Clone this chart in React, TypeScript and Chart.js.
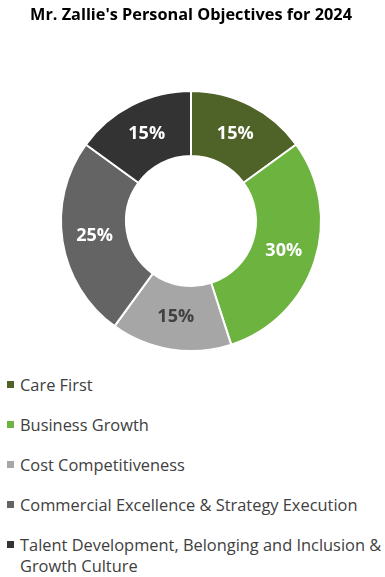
import React, { useEffect, useRef } from "react";
import { Chart, registerables } from "chart.js";

Chart.register(...registerables);

const TITLE = "Mr. Zallie's Personal Objectives for 2024";
const CATEGORIES = [
  "Care First",
  "Business Growth",
  "Cost Competitiveness",
  "Commercial Excellence & Strategy Execution",
  "Talent Development, Belonging and Inclusion & Growth Culture",
];
const VALUES = [15, 30, 15, 25, 15];
const COLORS = ["#4F6228", "#6DB33F", "#A6A6A6", "#646464", "#333333"];
const LABEL_COLORS = ["#FFFFFF", "#FFFFFF", "#404040", "#FFFFFF", "#FFFFFF"];

const FONT = "'Open Sans', sans-serif";

const labelPlugin = {
  id: "sliceLabels",
  afterDatasetsDraw(chart: any) {
    const ctx = chart.ctx;
    const meta = chart.getDatasetMeta(0);
    const total = VALUES.reduce((a, b) => a + b, 0);
    ctx.save();
    ctx.font = `bold 18px ${FONT}`;
    ctx.textAlign = "center";
    ctx.textBaseline = "middle";
    meta.data.forEach((arc: any, i: number) => {
      const p = arc.tooltipPosition();
      ctx.fillStyle = LABEL_COLORS[i];
      ctx.fillText(Math.round((VALUES[i] / total) * 100) + "%", p.x, p.y);
    });
    ctx.restore();
  },
};

export default function App() {
  const ref = useRef<HTMLCanvasElement | null>(null);
  useEffect(() => {
    if (!ref.current) return;
    const chart = new Chart(ref.current, {
      type: "doughnut",
      data: {
        labels: CATEGORIES,
        datasets: [
          {
            data: VALUES,
            backgroundColor: COLORS,
            borderColor: "#FFFFFF",
            borderWidth: 2,
          },
        ],
      },
      options: {
        animation: false,
        responsive: false,
        cutout: "50%",
        layout: { padding: { left: 0, right: 3, bottom: 8, top: 0 } },
        plugins: {
          legend: { display: false },
          tooltip: { enabled: false },
          title: {
            display: true,
            text: TITLE,
            color: "#000000",
            font: { family: FONT, size: 16.3, weight: "bold" },
            padding: { top: 5.2, bottom: 65.2 },
          },
        },
      },
      plugins: [labelPlugin],
    });
    return () => chart.destroy();
  }, []);

  return (
    <div
      style={{
        position: "fixed",
        left: 0,
        top: 0,
        width: 385,
        height: 577,
        background: "#FFFFFF",
        overflow: "hidden",
        fontFamily: FONT,
      }}
    >
      <canvas ref={ref} width={385} height={360} style={{ display: "block" }} />
      <div style={{ position: "absolute", left: 0, top: 374, width: 385 }}>
        {CATEGORIES.map((c, i) => (
          <div
            key={c}
            style={{
              position: "relative",
              paddingLeft: 20,
              marginBottom: 19,
              fontSize: 16.4,
              lineHeight: "21px",
              color: "#404040",
              width: 364,
            }}
          >
            <span
              style={{
                position: "absolute",
                left: 7,
                top: 7,
                width: 7,
                height: 7,
                background: COLORS[i],
              }}
            />
            {c}
          </div>
        ))}
      </div>
    </div>
  );
}
